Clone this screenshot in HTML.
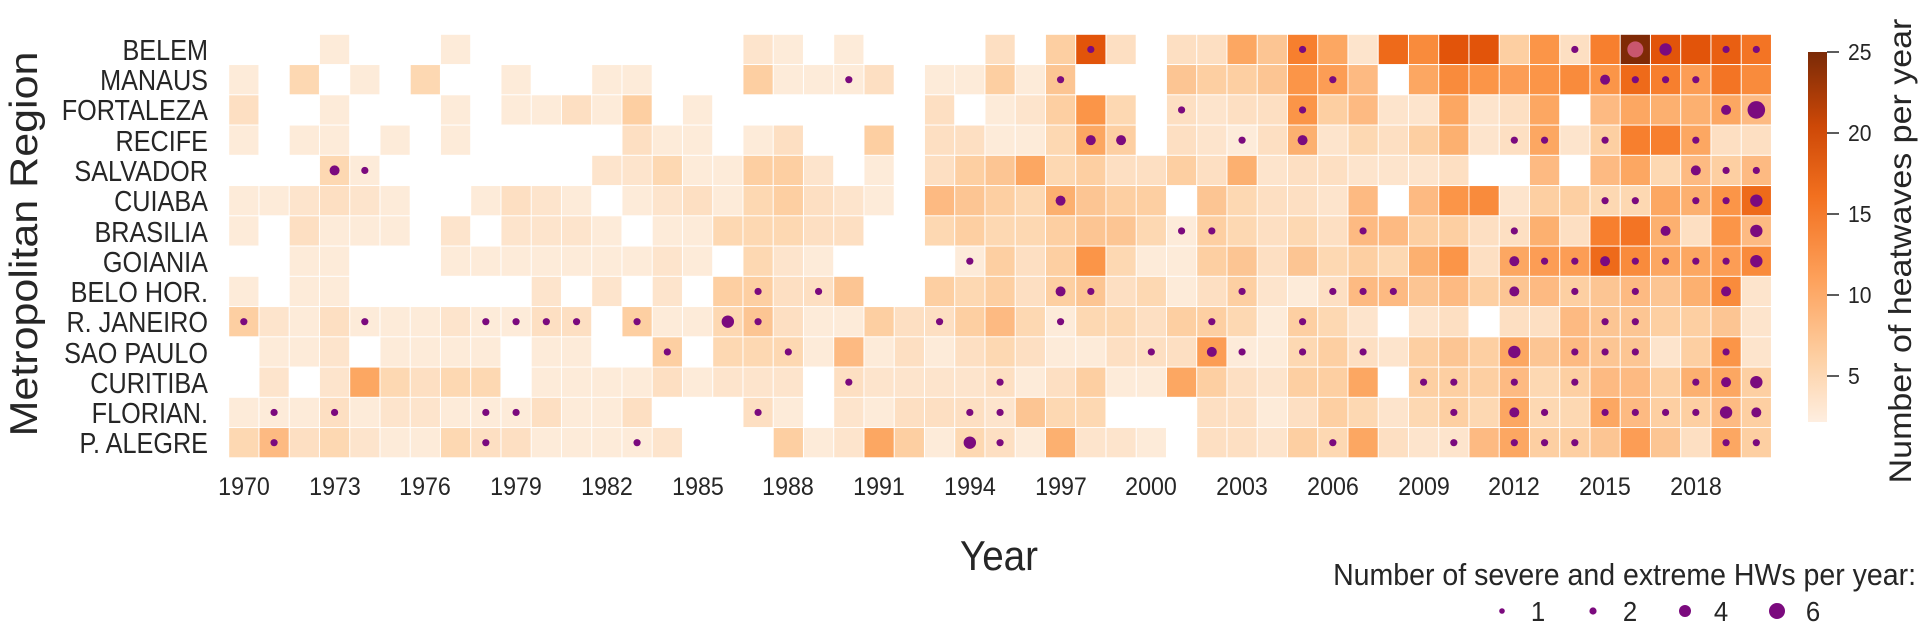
<!DOCTYPE html>
<html><head><meta charset="utf-8"><style>
html,body{margin:0;padding:0;background:#fff;}
svg{display:block;font-family:"Liberation Sans",Arial,sans-serif;}
</style></head><body>
<svg id="s" width="1920" height="629" viewBox="0 0 1920 629" xmlns="http://www.w3.org/2000/svg">
<defs>
<linearGradient id="cb" x1="0" y1="1" x2="0" y2="0">
<stop offset="0" stop-color="#feeee0"/>
<stop offset="0.17" stop-color="#fdd0a4"/>
<stop offset="0.39" stop-color="#fda05a"/>
<stop offset="0.61" stop-color="#f2701f"/>
<stop offset="0.80" stop-color="#cd4807"/>
<stop offset="1" stop-color="#7a2a07"/>
</linearGradient>
</defs>
<g id="cells"></g>
<g id="dots"></g>
<g font-size="29" fill="#262626" text-anchor="end">
<text transform="translate(208,60) scale(0.87,1)">BELEM</text>
<text transform="translate(208,90) scale(0.87,1)">MANAUS</text>
<text transform="translate(208,120) scale(0.87,1)">FORTALEZA</text>
<text transform="translate(208,151) scale(0.87,1)">RECIFE</text>
<text transform="translate(208,181) scale(0.87,1)">SALVADOR</text>
<text transform="translate(208,211) scale(0.87,1)">CUIABA</text>
<text transform="translate(208,242) scale(0.87,1)">BRASILIA</text>
<text transform="translate(208,272) scale(0.87,1)">GOIANIA</text>
<text transform="translate(208,302) scale(0.87,1)">BELO HOR.</text>
<text transform="translate(208,332) scale(0.87,1)">R. JANEIRO</text>
<text transform="translate(208,363) scale(0.87,1)">SAO PAULO</text>
<text transform="translate(208,393) scale(0.87,1)">CURITIBA</text>
<text transform="translate(208,423) scale(0.87,1)">FLORIAN.</text>
<text transform="translate(208,453) scale(0.87,1)">P. ALEGRE</text>
</g>
<g font-size="25" fill="#262626" text-anchor="middle">
<text transform="translate(244,495) scale(0.93,1)">1970</text>
<text transform="translate(335,495) scale(0.93,1)">1973</text>
<text transform="translate(425,495) scale(0.93,1)">1976</text>
<text transform="translate(516,495) scale(0.93,1)">1979</text>
<text transform="translate(607,495) scale(0.93,1)">1982</text>
<text transform="translate(698,495) scale(0.93,1)">1985</text>
<text transform="translate(788,495) scale(0.93,1)">1988</text>
<text transform="translate(879,495) scale(0.93,1)">1991</text>
<text transform="translate(970,495) scale(0.93,1)">1994</text>
<text transform="translate(1061,495) scale(0.93,1)">1997</text>
<text transform="translate(1151,495) scale(0.93,1)">2000</text>
<text transform="translate(1242,495) scale(0.93,1)">2003</text>
<text transform="translate(1333,495) scale(0.93,1)">2006</text>
<text transform="translate(1424,495) scale(0.93,1)">2009</text>
<text transform="translate(1514,495) scale(0.93,1)">2012</text>
<text transform="translate(1605,495) scale(0.93,1)">2015</text>
<text transform="translate(1696,495) scale(0.93,1)">2018</text>
</g>
<text transform="translate(999,570) scale(0.92,1)" font-size="42" fill="#262626" text-anchor="middle">Year</text>
<text transform="translate(37,244) rotate(-90) scale(1,0.91)" font-size="43" fill="#262626" text-anchor="middle">Metropolitan Region</text>
<rect x="1808" y="52" width="19" height="370" fill="url(#cb)"/>
<g stroke="#262626" stroke-width="1.5">
<line x1="1827" y1="52" x2="1839" y2="52"/>
<line x1="1827" y1="133" x2="1839" y2="133"/>
<line x1="1827" y1="214" x2="1839" y2="214"/>
<line x1="1827" y1="295" x2="1839" y2="295"/>
<line x1="1827" y1="376" x2="1839" y2="376"/>
</g>
<g font-size="23" fill="#262626">
<text transform="translate(1848,60) scale(0.92,1)">25</text>
<text transform="translate(1848,141) scale(0.92,1)">20</text>
<text transform="translate(1848,222) scale(0.92,1)">15</text>
<text transform="translate(1848,303) scale(0.92,1)">10</text>
<text transform="translate(1848,384) scale(0.92,1)">5</text>
</g>
<text transform="translate(1911,251) rotate(-90) scale(1,0.92)" font-size="34" fill="#262626" text-anchor="middle">Number of heatwaves per year</text>
<text transform="translate(1916,585) scale(0.92,1)" font-size="31" fill="#262626" text-anchor="end">Number of severe and extreme HWs per year:</text>
<g fill="#7b0a7e">
<circle cx="1502" cy="611" r="2.8"/>
<circle cx="1593" cy="611" r="3.6"/>
<circle cx="1685" cy="611" r="6"/>
<circle cx="1777" cy="611" r="8"/>
</g>
<g font-size="28" fill="#262626" text-anchor="middle">
<text transform="translate(1538,621) scale(0.92,1)">1</text>
<text transform="translate(1630,621) scale(0.92,1)">2</text>
<text transform="translate(1721,621) scale(0.92,1)">4</text>
<text transform="translate(1813,621) scale(0.92,1)">6</text>
</g>
</svg>
<script>
var rows=[
"3=1 7=1 17=1.5 18=1 20=1 25=2 27=3 28=9/1 29=2 31=2 32=2 33=5 34=3.5 35=7/1 36=5 37=1.5 38=8 39=6.5 40=9 41=9 42=3 43=6 44=2/1 45=7 46=10/P 47=9/4 48=9 49=8.5/1 50=7.5/1",
"0=1 2=2.5 4=1 6=2.5 9=1 12=1 13=1 17=3 18=1 19=1 20=1/1 21=2 23=1 24=1 25=3 26=1 27=3.5/1 31=3.5 32=3 33=3 34=3.5 35=6 36=5.5/1 37=4 39=5 40=6.5 41=6 42=5.5 43=6 44=6.5 45=6/2 46=8/1 47=7/1 48=5.5/1 49=7.5 50=6.5",
"0=2 3=1 7=1 9=1 10=1 11=2 12=1 13=3 15=1 23=2 25=1 26=1.5 27=3 28=6 29=2.5 31=2/1 32=1.5 33=2 34=2 35=6/1 36=3 37=4 38=1.5 39=1.5 40=5 41=1.5 42=2 43=5 45=4 46=5 47=4.5 48=4.5 49=5/2 50=4/6",
"0=1 2=1 3=1 5=1 7=1 13=2 14=1 15=1 17=1 18=2 21=3 23=2 24=2 25=1 26=1 27=2.5 28=5/2 29=3/2 31=2 32=1.5 33=1/1 34=2 35=4.5/2 36=1.5 37=2.5 38=2 39=3 40=4.5 41=1.5 42=2/1 43=5/1 44=1.5 45=3/1 46=7 47=7 48=5/1 49=2 50=2",
"3=2.5/2 4=1/1 12=1.5 13=1.5 14=2.5 15=1 16=1 17=3 18=3 19=1.5 21=1 23=2 24=3 25=3.5 26=5 27=2.5 28=3 29=2 30=2 31=3 32=2 33=4.5 34=1.5 35=2 36=2 37=1.5 38=1.5 39=1.5 40=2 43=4 45=4 46=5 47=2.5 48=4/2 49=3/1 50=4/1",
"0=1 1=1 2=1.5 3=2 4=1.5 5=1 8=1 9=2 10=1.5 11=1 13=1 14=1.5 15=2 16=1 17=2.5 18=3 19=2 20=1.5 21=1 23=4 24=3.5 25=3 26=2.5 27=4.5/2 28=3.5 29=3 30=3 32=3.5 33=2.5 34=2 35=2 36=1.5 37=4 39=4 40=6 41=6.5 42=1.5 43=3 44=3 45=2.5/1 46=2.5/1 47=5 48=4.5/1 49=6/1 50=8/4",
"0=1 2=2 3=1 4=1 5=1 7=1.5 9=1.5 10=1.5 11=1.5 12=1 14=1 15=1 16=2.5 17=2.5 18=2.5 19=2 20=2 23=2.5 24=3 25=2.5 26=2.5 27=3 28=3.5 29=3.5 30=2.5 31=1/1 32=3/1 33=2.5 34=2 35=2.5 36=2 37=4/1 38=4 39=3 40=3 41=2 42=2/1 43=4.5 44=2 45=7 46=7.5 47=4.5/2 48=2 49=6 50=4/4",
"2=1 3=1 7=1 8=1 9=1 10=1 11=1 12=1 13=1 14=1.5 15=1 17=2.5 18=1.5 19=1 24=1/1 25=3 26=2 27=3 28=6 29=2.5 30=1 31=1 32=3 33=3.5 34=2 35=3.5 36=2.5 37=3 38=2.5 39=4.5 40=6 41=2 42=5/2 43=5.5/1 44=5.5/1 45=8/2 46=6.5/1 47=5/1 48=5/1 49=5.5/1 50=6.5/4",
"0=1 2=1 3=1 10=1.5 12=1.5 14=1.5 16=3 17=3/1 18=2 19=2/1 20=3.5 23=3 24=2.5 25=3 26=2 27=3/2 28=3.5/1 29=2 30=2.5 31=1 32=2 33=3/1 34=1.5 35=1 36=2/1 37=4/1 38=4/1 39=3.5 40=4 41=3 42=3.5/2 43=4 44=3/1 45=3.5 46=4/1 47=3.5 48=4.5 49=6.5/2 50=1.5",
"0=3/1 1=1.5 2=1 3=2 4=1/1 5=1 6=1 7=1.5 8=1/1 9=1/1 10=2/1 11=2/1 13=3/1 14=1 15=1 16=2.5/4 17=3.5/1 18=2 19=1 20=1 21=3 22=2 23=2/1 24=3 25=4 26=2.5 27=1/1 28=2.5 29=2.5 30=2 31=3 32=3/1 33=2.5 34=1 35=3/1 36=2.5 37=1.5 39=1.5 40=2 42=2 43=2 44=4 45=3.5/1 46=3.5/1 47=3 48=3 49=3.5 50=1.5",
"1=1 2=1 3=1.5 5=1 6=1 7=1 8=1 10=1 11=1 14=3/1 16=2.5 17=2.5 18=2.5/1 19=1 20=4 21=1 22=2 23=1 24=2 25=2.5 26=2 27=1 28=1 29=2 30=2/1 31=2 32=5.5/2 33=1/1 34=1 35=2.5/1 36=3 37=2/1 38=1.5 39=3 40=3.5 41=3 42=5/4 43=3.5 44=4/1 45=3.5/1 46=3.5/1 47=1.5 48=3 49=6/1 50=1.5",
"1=1.5 3=1.5 4=5 5=2.5 6=2 7=2.5 8=2.5 10=1 11=1 12=1 13=1 14=2 15=1 16=1.5 17=1.5 18=1.5 20=2/1 21=1.5 22=1.5 23=1.5 24=1.5 25=2/1 26=1 27=2 28=3 29=1 30=1 31=5 32=3 33=2 34=1.5 35=3 36=3 37=5 39=3/1 40=3/1 41=3 42=4/1 43=2.5 44=3/1 45=4 46=4 47=3 48=4.5/1 49=5/2 50=3/4",
"0=1 1=1/1 2=1 3=2/1 4=1 5=1.5 6=1.5 7=1 8=1/1 9=1/1 10=2 11=1 12=1 13=2 17=2/1 18=1 20=1.5 21=1 22=2 23=2 24=2/1 25=1.5/1 26=3.5 27=2.5 28=2.5 32=2 33=2 34=1 35=2 36=3 37=2.5 38=1.5 39=2.5 40=3/1 41=2.5 42=5/2 43=2.5/1 44=2.5 45=5/1 46=4/1 47=3/1 48=3/1 49=4/4 50=3/2",
"0=2.5 1=4/1 2=2 3=2.5 4=1.5 5=1 6=1 7=2.5 8=2/1 9=2 10=1 11=1 12=1 13=1/1 14=1.5 18=3 19=1 20=1.5 21=5 22=3 23=1 24=2.5/4 25=2/1 26=1 27=4.5 28=1.5 29=1.5 30=1 32=2 33=2 34=1.5 35=3 36=2.5/1 37=5 38=2 39=1.5 40=1.5/1 41=4 42=5/1 43=3/1 44=3/1 45=3.5 46=5.5 47=3.5 48=2 49=5/1 50=3/1"
];
var col={"1":"#fdebd9","1.5":"#fde4cc","2":"#fddfc2","2.5":"#fdd8b2","3":"#fdcfa2","3.5":"#fcc593","4":"#fdba82","4.5":"#fcb070","5":"#fca762","5.5":"#fc9d55","6":"#fb9548","6.5":"#f98b3c","7":"#f77f2e","7.5":"#f37424","8":"#ee6a1a","8.5":"#e95f12","9":"#e2540a","10":"#7f2a06"};
var rad={"1":3.6,"2":5,"4":6.2,"6":8.8,"P":8};
var NS="http://www.w3.org/2000/svg";
var gc=document.getElementById("cells"),gd=document.getElementById("dots");
var X0=228.7,Y0=34.3,P=30.25;
rows.forEach(function(r,ri){
 r.split(" ").forEach(function(t){
  var a=t.split("="),c=+a[0],b=a[1].split("/");
  var x=X0+c*P,y=Y0+ri*P;
  var e=document.createElementNS(NS,"rect");
  e.setAttribute("x",x+0.5);e.setAttribute("y",y+0.5);
  e.setAttribute("width",P-1);e.setAttribute("height",P-1);
  e.setAttribute("fill",col[b[0]]);gc.appendChild(e);
  if(b[1]){
   var d=document.createElementNS(NS,"circle");
   d.setAttribute("cx",x+P/2);d.setAttribute("cy",y+P/2);
   d.setAttribute("r",rad[b[1]]);
   d.setAttribute("fill",b[1]=="P"?"#c9566e":"#7b0a7e");
   gd.appendChild(d);
  }
 });
});
</script>
</body></html>
